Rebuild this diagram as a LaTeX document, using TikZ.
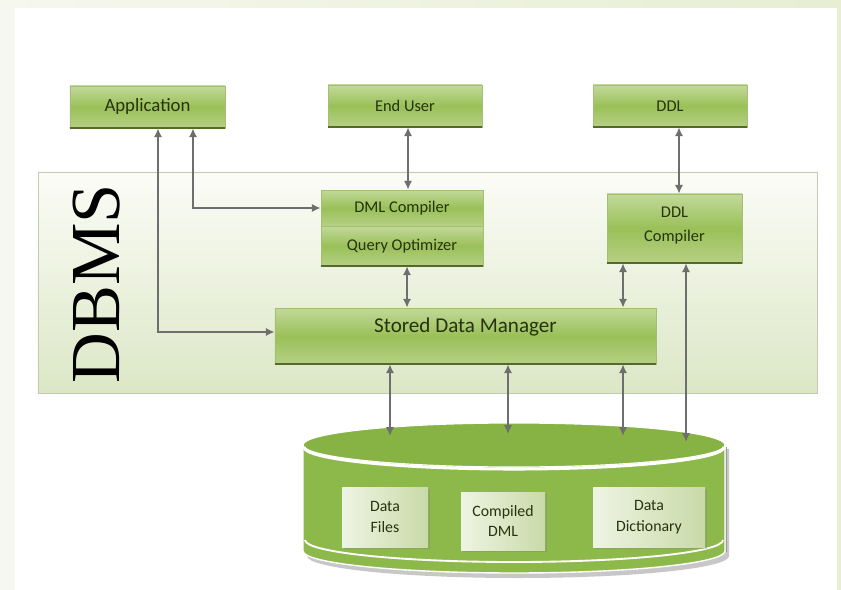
\documentclass[tikz,border=0pt]{standalone}
\usepackage{fontspec}
\setmainfont{Carlito}
\newfontfamily\dbmsfont{Liberation Serif}
\usetikzlibrary{arrows.meta,calc,shadows}

\definecolor{pagebg}{HTML}{F6F7EE}
\definecolor{pagetint}{HTML}{E7EED2}
\definecolor{boxtop}{HTML}{C2D99A}
\definecolor{boxmid}{HTML}{9AC058}
\definecolor{boxbot}{HTML}{B6D084}
\definecolor{boxedge}{HTML}{A4BE74}
\definecolor{boxbase}{HTML}{56682A}
\definecolor{boxtext}{HTML}{26330E}
\definecolor{paneltop}{HTML}{FBFCF7}
\definecolor{panelbot}{HTML}{DCE7C6}
\definecolor{paneledge}{HTML}{C4C9B2}
\definecolor{linkgrey}{HTML}{6E6E6E}
\definecolor{cylgreen}{HTML}{8DB94B}
\definecolor{cyltop}{HTML}{86B343}
\definecolor{cylshadow}{HTML}{9A9A9A}
\definecolor{innerlight}{HTML}{EEF4E3}
\definecolor{innerdark}{HTML}{C9DAA8}

\tikzset{
  greenbox/.style={rectangle, draw=boxedge, line width=0.5pt,
    top color=boxtop, bottom color=boxbot, middle color=boxmid,
    text=boxtext, font=\fontsize{14}{16}\selectfont, inner sep=0pt, align=center},
  basebar/.style={draw=boxbase, line width=1.6pt},
  innerbox/.style={rectangle, draw=none, left color=innerlight, right color=innerdark,
    text=boxtext, font=\fontsize{13.5}{17.5}\selectfont, align=center, inner sep=0pt,
    drop shadow={shadow xshift=2pt, shadow yshift=-2pt, opacity=0.35}},
  biarrow/.style={draw=linkgrey, line width=1.6pt,
    {Latex[length=7.5pt,width=7pt]}-{Latex[length=7.5pt,width=7pt]}},
}

\begin{document}
\begin{tikzpicture}[x=0.03cm,y=-0.03cm]
  % page frame
  \fill[pagebg] (0,0) rectangle (841,590);
  \shade[left color=pagebg, right color=pagetint] (0,0) rectangle (841,8);
  \fill[pagetint] (837,0) rectangle (841,590);
  \fill[white] (15,8) rectangle (837,590);
  \useasboundingbox (0,0) rectangle (841,590);

  % DBMS panel
  \node[rectangle, draw=paneledge, line width=0.6pt, top color=paneltop, bottom color=panelbot,
        minimum width=23.37cm, minimum height=6.63cm, inner sep=0pt] (panel) at (427.5,282.5) {};
  \node[rotate=90, font=\dbmsfont\fontsize{60}{60}\selectfont, text=black, inner sep=0pt]
        (dbms) at (97,284) {DBMS};

  % external boxes
  \node[greenbox, minimum width=4.65cm, minimum height=1.26cm, font=\fontsize{16}{18}\selectfont]
        (app)  at (147.5,107) {Application};
  \node[greenbox, minimum width=4.62cm, minimum height=1.26cm] (user) at (405,106)   {End User};
  \node[greenbox, minimum width=4.62cm, minimum height=1.26cm] (ddl)  at (670,106)   {DDL};

  % DBMS components
  \node[greenbox, minimum width=4.86cm, minimum height=1.08cm] (dml)  at (402,208)   {DML Compiler};
  \node[greenbox, minimum width=4.86cm, minimum height=1.20cm] (qo)   at (402,246)   {Query Optimizer};
  \node[greenbox, minimum width=4.05cm, minimum height=2.07cm, text depth=0.75em]
        (ddlc) at (674.5,228.5) {DDL\\[4pt]Compiler};
  \node[greenbox, minimum width=11.43cm, minimum height=1.68cm,
        label={[font=\fontsize{18}{20}\selectfont, text=boxtext, yshift=0.27cm]center:Stored Data Manager}]
        (sdm) at (465.5,336) {};

  \foreach \n in {app,user,ddl,qo,ddlc,sdm}
    \draw[basebar] (\n.south west) -- (\n.south east);

  % database cylinder
  \begin{scope}
    \fill[cylshadow, opacity=0.55]
      (307,449) -- (307,556) arc[start angle=180,end angle=360,x radius=6.33cm,y radius=0.66cm]
      -- (729,449) -- cycle;
    \fill[cylgreen, draw=white, line width=1.2pt]
      (303,445) -- (303,551) arc[start angle=180,end angle=360,x radius=6.33cm,y radius=0.66cm]
      -- (725,445) arc[start angle=0,end angle=180,x radius=6.33cm,y radius=0.66cm] -- cycle;
    \draw[white, line width=1.6pt]
      (305,540) arc[start angle=180,end angle=360,x radius=6.27cm,y radius=0.66cm];
    \fill[cyltop] (514,445) ellipse[x radius=6.33cm, y radius=0.66cm];
    \draw[white, line width=1.0pt] (514,445) ellipse[x radius=6.33cm, y radius=0.66cm];
    \draw[white, line width=2.6pt]
      (304,447) arc[start angle=180,end angle=360,x radius=6.30cm,y radius=0.66cm];
    \draw[cylshadow, line width=1.2pt] (726.5,447) -- (726.5,552);
  \end{scope}

  \node[innerbox, minimum width=2.58cm, minimum height=1.80cm] (df) at (385,517) {Data\\Files};
  \node[innerbox, minimum width=2.52cm, minimum height=1.74cm] (cd) at (503,521) {Compiled\\DML};
  \node[innerbox, minimum width=3.36cm, minimum height=1.80cm] (dd) at (649,517) {Data\\Dictionary};

  % attachment points on the top face of the store
  \coordinate (s1) at (390,436);
  \coordinate (s2) at (508,434);
  \coordinate (s3) at (623,436);
  \coordinate (s4) at (686,442);
  \coordinate (xa) at (193,0);
  \coordinate (xb) at (158,0);
  \coordinate (xu) at (408,0);
  \coordinate (xd) at (679,0);
  \coordinate (xq) at (407,0);
  \coordinate (xc) at (623,0);

  % connectors
  \draw[biarrow] (app.south -| xa) |- (dml.west);
  \draw[biarrow] (app.south -| xb) |- ($(sdm.west)+(0,-4)$);
  \draw[biarrow] (user.south -| xu) -- (dml.north -| xu);
  \draw[biarrow] (ddl.south -| xd) -- (ddlc.north -| xd);
  \draw[biarrow] (qo.south -| xq) -- (sdm.north -| xq);
  \draw[biarrow] (ddlc.south -| xc) -- (sdm.north -| xc);
  \draw[biarrow] (sdm.south -| s1) -- (s1);
  \draw[biarrow] (sdm.south -| s2) -- (s2);
  \draw[biarrow] (sdm.south -| s3) -- (s3);
  \draw[biarrow] (ddlc.south -| s4) -- (s4);
\end{tikzpicture}
\end{document}
